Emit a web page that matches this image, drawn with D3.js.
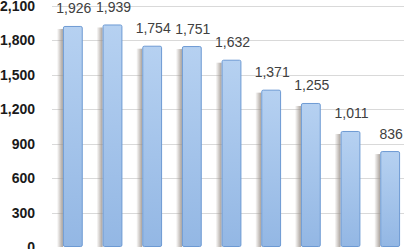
<!DOCTYPE html>
<html>
<head>
<meta charset="utf-8">
<script src="https://cdn.jsdelivr.net/npm/d3@7"></script>
<style>
  html, body { margin: 0; padding: 0; background: #fff; }
  svg { display: block; }
</style>
</head>
<body>
<div id="chart"></div>
<script>
// values (category names are cropped out of view)
const categories = ["c1", "c2", "c3", "c4", "c5", "c6", "c7", "c8", "c9"];
const values = [1926, 1939, 1754, 1751, 1632, 1371, 1255, 1011, 836];
const yTicks = [0, 300, 600, 900, 1200, 1500, 1800, 2100];

const width = 404, height = 249;
const margin = { top: 6, right: -6, bottom: 2, left: 53 };

const svg = d3.select("#chart").append("svg")
    .attr("width", width)
    .attr("height", height);

const defs = svg.append("defs");

const barGrad = defs.append("linearGradient")
    .attr("id", "barGrad")
    .attr("x1", 0).attr("y1", 0).attr("x2", 0).attr("y2", 1);
barGrad.append("stop").attr("offset", "0%").attr("stop-color", "#b6d1f1");
barGrad.append("stop").attr("offset", "100%").attr("stop-color", "#93b7e4");

const shadowGrad = defs.append("linearGradient")
    .attr("id", "shadowGrad")
    .attr("x1", 0).attr("y1", 0).attr("x2", 1).attr("y2", 0);
shadowGrad.append("stop").attr("offset", "0%").attr("stop-color", "#9a9088").attr("stop-opacity", 0);
shadowGrad.append("stop").attr("offset", "100%").attr("stop-color", "#9a9088").attr("stop-opacity", 0.85);

const x = d3.scaleBand()
    .domain(categories)
    .range([margin.left, width - margin.right])
    .paddingInner(0.5)
    .paddingOuter(0.25);

const y = d3.scaleLinear()
    .domain([0, 2100])
    .range([height - margin.bottom, margin.top]);

// gridlines
svg.append("g")
    .selectAll("line")
    .data(yTicks.filter(d => d > 0))
    .enter()
    .append("line")
    .attr("x1", margin.left - 1)
    .attr("x2", width)
    .attr("y1", d => Math.round(y(d)) + 0.5)
    .attr("y2", d => Math.round(y(d)) + 0.5)
    .attr("stroke", "#d9d9d9")
    .attr("stroke-width", 1);

// y axis labels
svg.append("g")
    .selectAll("text")
    .data(yTicks)
    .enter()
    .append("text")
    .attr("x", 35)
    .attr("y", d => y(d))
    .attr("dy", "0.36em")
    .attr("text-anchor", "end")
    .style("font-family", "'Liberation Sans', Arial, sans-serif")
    .style("font-size", "14px")
    .style("font-weight", "bold")
    .style("fill", "#1a1a1a")
    .text(d => d3.format(",")(d));

const bars = svg.append("g")
    .selectAll("g")
    .data(categories.map((c, i) => ({ cat: c, val: values[i] })))
    .enter()
    .append("g");

// soft shadow on the left side of each bar
bars.append("rect")
    .attr("x", d => x(d.cat) - 6)
    .attr("y", d => y(d.val) + 3)
    .attr("width", 6)
    .attr("height", d => y(0) - y(d.val) - 3)
    .attr("fill", "url(#shadowGrad)");

bars.append("rect")
    .attr("x", d => x(d.cat) + 0.5)
    .attr("y", d => y(d.val) + 0.5)
    .attr("width", x.bandwidth() - 1)
    .attr("height", d => y(0) - y(d.val) - 1)
    .attr("rx", 1.5)
    .attr("fill", "url(#barGrad)")
    .attr("stroke", "#6d9ad3")
    .attr("stroke-width", 1);

// value labels
bars.append("text")
    .attr("x", d => x(d.cat) + x.bandwidth() / 2 + 1)
    .attr("y", d => y(d.val) - 12.5)
    .attr("text-anchor", "middle")
    .style("font-family", "'Liberation Sans', Arial, sans-serif")
    .style("font-size", "14px")
    .style("fill", "#404040")
    .text(d => d3.format(",")(d.val));
</script>
</body>
</html>
